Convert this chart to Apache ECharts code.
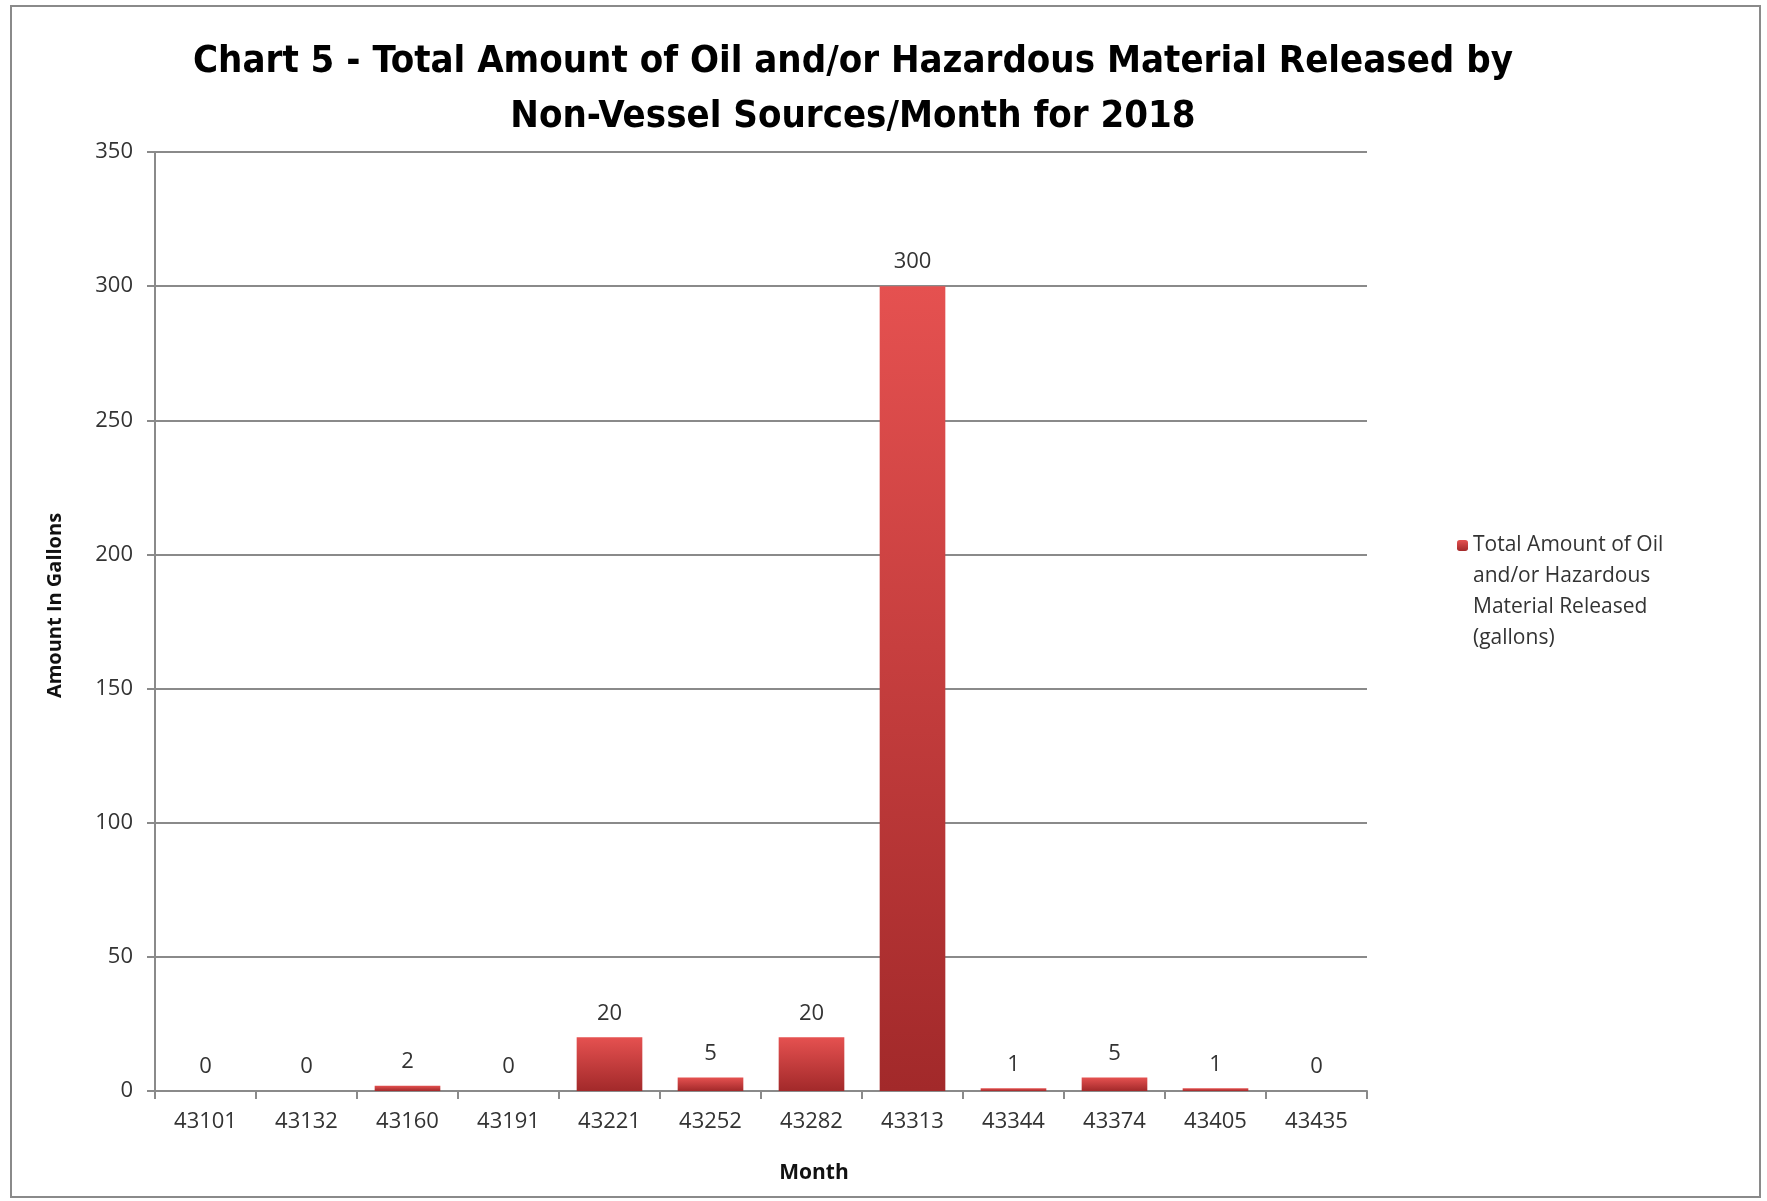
<!DOCTYPE html>
<html>
<head>
<meta charset="utf-8">
<script src="https://cdn.jsdelivr.net/npm/echarts@6/dist/echarts.min.js"></script>
<style>
  html, body { margin: 0; padding: 0; background: #fff; }
  #chart { width: 1767px; height: 1201px; }
</style>
</head>
<body>
<div id="chart"></div>
<script>
  // month serials as they appear on the axis
  const months = ['43101', '43132', '43160', '43191', '43221', '43252', '43282', '43313', '43344', '43374', '43405', '43435'];
  const released = [0, 0, 2, 0, 20, 5, 20, 300, 1, 5, 1, 0];
  const seriesName = 'Total Amount of Oil and/or Hazardous Material Released (gallons)';

  const chart = echarts.init(document.getElementById('chart'));

  const option = {
    animation: false,
    backgroundColor: '#fff',
    title: {
      text: 'Chart 5 - Total Amount of Oil and/or Hazardous Material Released by\nNon-Vessel Sources/Month for 2018',
      left: 848,
      top: 30,
      textAlign: 'center',
      textStyle: {
        fontFamily: "'DejaVu Sans Condensed', sans-serif",
        fontWeight: 'bold',
        fontSize: 38,
        lineHeight: 55,
        color: '#000'
      }
    },
    legend: {
      orient: 'vertical',
      left: 1452,
      top: 432,
      itemWidth: 11,
      itemHeight: 11,
      data: [seriesName],
      // blank lines above so the marker sits on the first line
      formatter: () => '\n\n\nTotal Amount of Oil\nand/or Hazardous\nMaterial Released\n(gallons)',
      textStyle: {
        fontFamily: "'Open Sans', sans-serif",
        fontSize: 21,
        lineHeight: 31,
        color: '#333'
      }
    },
    grid: {
      left: 155,
      right: 400,
      top: 152,
      bottom: 110
    },
    xAxis: {
      type: 'category',
      data: months,
      name: 'Month',
      nameLocation: 'middle',
      nameGap: 72,
      nameTextStyle: {
        fontFamily: "'Open Sans', sans-serif",
        fontWeight: 'bold',
        fontSize: 21,
        color: '#111',
        padding: [0, 0, 0, 106]
      },
      axisLine: { lineStyle: { color: '#8a8a8a', width: 2 } },
      axisTick: { show: true, length: 8, lineStyle: { color: '#8a8a8a', width: 2 } },
      axisLabel: {
        margin: 20,
        fontFamily: "'Open Sans', sans-serif",
        fontSize: 22,
        color: '#333'
      }
    },
    yAxis: {
      type: 'value',
      min: 0,
      max: 350,
      interval: 50,
      name: 'Amount In Gallons',
      nameLocation: 'middle',
      nameGap: 90,
      nameTextStyle: {
        fontFamily: "'Open Sans', sans-serif",
        fontWeight: 'bold',
        fontSize: 20,
        color: '#111',
        padding: [0, 0, 0, 32]
      },
      axisLine: { show: true, lineStyle: { color: '#8a8a8a', width: 2 } },
      axisTick: { show: true, length: 8, lineStyle: { color: '#8a8a8a', width: 2 } },
      axisLabel: {
        margin: 22,
        fontFamily: "'Open Sans', sans-serif",
        fontSize: 22,
        color: '#333'
      },
      splitLine: { lineStyle: { color: '#8a8a8a', width: 2 } }
    },
    series: [
      {
        name: seriesName,
        type: 'bar',
        data: released,
        barCategoryGap: '35%',
        itemStyle: {
          color: new echarts.graphic.LinearGradient(0, 0, 0, 1, [
            { offset: 0, color: '#e55150' },
            { offset: 1, color: '#a2292a' }
          ])
        },
        label: {
          show: true,
          position: 'top',
          distance: 13,
          fontFamily: "'Open Sans', sans-serif",
          fontSize: 22,
          color: '#333'
        }
      }
    ],
    graphic: [
      {
        type: 'rect',
        shape: { x: 11, y: 6, width: 1749, height: 1191 },
        style: { fill: 'none', stroke: '#8a8a8a', lineWidth: 2 },
        silent: true,
        z: -1
      }
    ]
  };

  chart.setOption(option);
</script>
</body>
</html>
